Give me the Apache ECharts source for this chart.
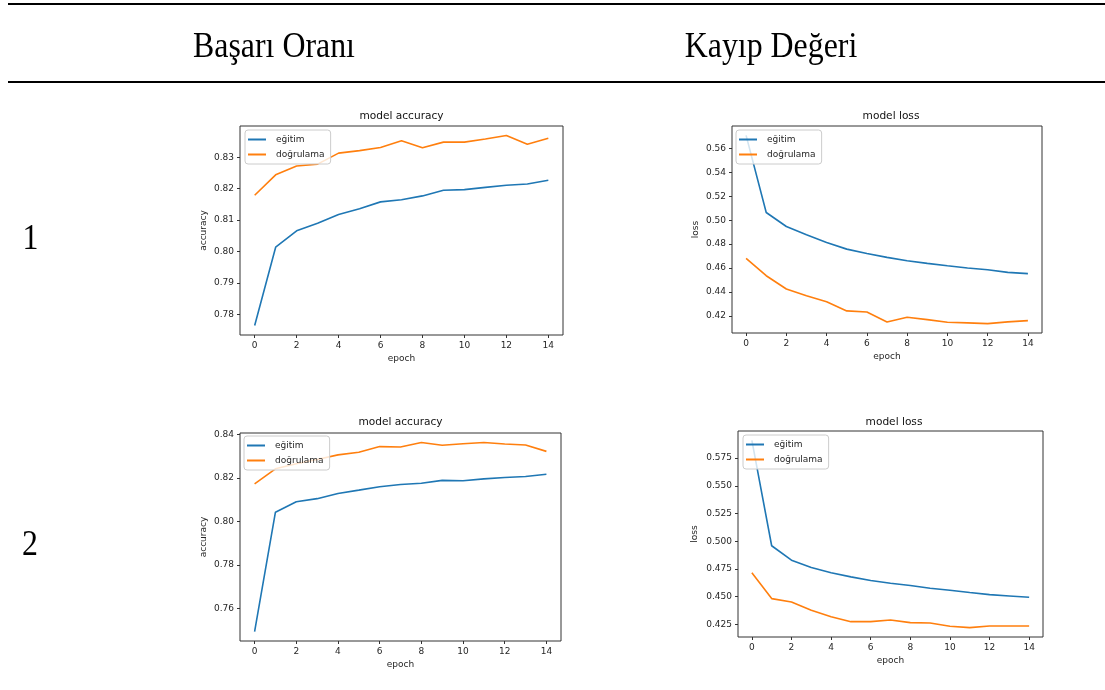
<!DOCTYPE html>
<html>
<head>
<meta charset="utf-8">
<script src="https://cdn.jsdelivr.net/npm/echarts@6/dist/echarts.min.js"></script>
<style>
  html, body { margin: 0; padding: 0; background: #fff; }
  #chart { width: 1105px; height: 690px; }
</style>
</head>
<body>
<div id="chart"></div>
<script>
// Training history, 15 epochs, two runs
const epochs = [0, 1, 2, 3, 4, 5, 6, 7, 8, 9, 10, 11, 12, 13, 14];
const seriesNames = ['eğitim', 'doğrulama'];

// Run 1
const acc1Train = [0.7765, 0.8014, 0.8066, 0.8090, 0.8118, 0.8136, 0.8158, 0.8165, 0.8177, 0.8195, 0.8197, 0.8204, 0.8211, 0.8215, 0.8227];
const acc1Val   = [0.8179, 0.8244, 0.8272, 0.8278, 0.8313, 0.8321, 0.8331, 0.8352, 0.8330, 0.8348, 0.8348, 0.8358, 0.8369, 0.8341, 0.8360];
const loss1Train = [0.5708, 0.5064, 0.4947, 0.4878, 0.4814, 0.4758, 0.4722, 0.4689, 0.4661, 0.4639, 0.4619, 0.4600, 0.4586, 0.4564, 0.4553];
const loss1Val   = [0.4681, 0.4536, 0.4425, 0.4369, 0.4319, 0.4242, 0.4233, 0.4150, 0.4189, 0.4169, 0.4147, 0.4142, 0.4136, 0.4150, 0.4161];

// Run 2
const acc2Train = [0.7495, 0.8043, 0.8091, 0.8105, 0.8129, 0.8144, 0.8160, 0.8170, 0.8176, 0.8189, 0.8187, 0.8196, 0.8202, 0.8207, 0.8217];
const acc2Val   = [0.8173, 0.8242, 0.8265, 0.8285, 0.8306, 0.8318, 0.8344, 0.8342, 0.8363, 0.8350, 0.8357, 0.8363, 0.8356, 0.8351, 0.8322];
const loss2Train = [0.5910, 0.4959, 0.4829, 0.4763, 0.4715, 0.4678, 0.4645, 0.4621, 0.4600, 0.4576, 0.4558, 0.4537, 0.4518, 0.4506, 0.4494];
const loss2Val   = [0.4715, 0.4482, 0.4452, 0.4377, 0.4319, 0.4274, 0.4274, 0.4289, 0.4265, 0.4262, 0.4232, 0.4220, 0.4235, 0.4235, 0.4235];

// Tick labels
const xTicks = [0, 2, 4, 6, 8, 10, 12, 14];
const yTicksAcc1 = [0.78, 0.79, 0.80, 0.81, 0.82, 0.83];
const yTicksLoss1 = [0.42, 0.44, 0.46, 0.48, 0.50, 0.52, 0.54, 0.56];
const yTicksAcc2 = [0.76, 0.78, 0.80, 0.82, 0.84];
const yTicksLoss2 = [0.425, 0.450, 0.475, 0.500, 0.525, 0.550, 0.575];

// Table header and row labels
const columnHeaders = ['Başarı Oranı', 'Kayıp Değeri'];
const rowLabels = ['1', '2'];
const titleAcc = 'model accuracy';
const titleLoss = 'model loss';

const BLUE = '#1f77b4';
const ORANGE = '#ff7f0e';
const INK = '#262626';
const SANS = '"DejaVu Sans", sans-serif';
const SERIF = '"Liberation Serif", "DejaVu Serif", serif';

// Panel layout: plot rectangles, title centers, legend boxes
const panels = [
  { grid: { left: 240, top: 126, width: 323, height: 209 }, title: titleAcc, tx: 401.5, ty: 116.5,
    yName: 'accuracy', yGap: 32, train: acc1Train, val: acc1Val, yTicks: yTicksAcc1, dec: 2, lg: { left: 245, top: 130 } },
  { grid: { left: 732, top: 126, width: 310, height: 207 }, title: titleLoss, tx: 891, ty: 116.5,
    yName: 'loss', yGap: 32, train: loss1Train, val: loss1Val, yTicks: yTicksLoss1, dec: 2, lg: { left: 736, top: 130 } },
  { grid: { left: 240, top: 433, width: 321, height: 208 }, title: titleAcc, tx: 400.5, ty: 422.5,
    yName: 'accuracy', yGap: 32, train: acc2Train, val: acc2Val, yTicks: yTicksAcc2, dec: 2, lg: { left: 244, top: 436 } },
  { grid: { left: 738, top: 431, width: 305, height: 206 }, title: titleLoss, tx: 894, ty: 422,
    yName: 'loss', yGap: 39, train: loss2Train, val: loss2Val, yTicks: yTicksLoss2, dec: 3, lg: { left: 743, top: 435 } }
];

// Autoscaled limits with a 5% margin on each side
function limits(lo, hi) {
  const m = (hi - lo) * 0.05;
  return [lo - m, hi + m];
}

const grids = [], xAxes = [], yAxes = [], series = [], legends = [], graphics = [];

panels.forEach((p, i) => {
  grids.push(Object.assign({ show: true, borderColor: '#333', borderWidth: 1, backgroundColor: '#fff' }, p.grid));

  const xl = limits(epochs[0], epochs[epochs.length - 1]);
  xAxes.push({
    type: 'value', gridIndex: i, min: xl[0], max: xl[1], position: 'bottom',
    name: 'epoch', nameLocation: 'middle', nameGap: 19,
    nameTextStyle: { fontFamily: SANS, fontSize: 9, color: INK },
    axisLine: { show: false, onZero: false },
    axisTick: { show: true, inside: false, length: 3, customValues: xTicks, lineStyle: { color: '#333', width: 1 } },
    axisLabel: { customValues: xTicks, margin: 6, fontFamily: SANS, fontSize: 9, color: INK, formatter: v => String(v) },
    splitLine: { show: false }
  });

  const all = p.train.concat(p.val);
  const yl = limits(Math.min.apply(null, all), Math.max.apply(null, all));
  yAxes.push({
    type: 'value', gridIndex: i, min: yl[0], max: yl[1], position: 'left',
    name: p.yName, nameLocation: 'middle', nameGap: p.yGap, nameRotate: 90,
    nameTextStyle: { fontFamily: SANS, fontSize: 9, color: INK },
    axisLine: { show: false, onZero: false },
    axisTick: { show: true, inside: false, length: 3, customValues: p.yTicks, lineStyle: { color: '#333', width: 1 } },
    axisLabel: { customValues: p.yTicks, margin: 6, fontFamily: SANS, fontSize: 9, color: INK, formatter: v => v.toFixed(p.dec) },
    splitLine: { show: false }
  });

  [p.train, p.val].forEach((arr, k) => {
    series.push({
      name: seriesNames[k], type: 'line', xAxisIndex: i, yAxisIndex: i,
      data: epochs.map((e, j) => [e, arr[j]]),
      symbol: 'none', smooth: false, animation: false,
      lineStyle: { color: k === 0 ? BLUE : ORANGE, width: 1.6 },
      itemStyle: { color: k === 0 ? BLUE : ORANGE },
      z: 2 + k
    });
  });

  legends.push({
    data: seriesNames, orient: 'vertical', left: p.lg.left, top: p.lg.top,
    padding: [5, 6, 5, 3], itemGap: 6, itemWidth: 18, itemHeight: 2, icon: 'rect',
    backgroundColor: 'rgba(255,255,255,0.8)', borderColor: '#cccccc', borderWidth: 1, borderRadius: 3,
    textStyle: { fontFamily: SANS, fontSize: 9, color: INK, padding: [0, 0, 0, 5] },
    selectedMode: false
  });

  graphics.push({
    type: 'text', x: p.tx, y: p.ty, z: 10,
    style: { text: p.title, font: '10.6px ' + SANS, fill: '#111', textAlign: 'center', textVerticalAlign: 'middle' }
  });
});

// Table rules and header/row text
graphics.push(
  { type: 'rect', shape: { x: 8, y: 3, width: 1097, height: 2 }, style: { fill: '#000' } },
  { type: 'rect', shape: { x: 8, y: 81, width: 1097, height: 2 }, style: { fill: '#000' } },
  { type: 'text', x: 274, y: 47.5, scaleX: 0.91,
    style: { text: columnHeaders[0], font: '35px ' + SERIF, fill: '#000', textAlign: 'center', textVerticalAlign: 'middle' } },
  { type: 'text', x: 771, y: 47.5, scaleX: 0.91,
    style: { text: columnHeaders[1], font: '35px ' + SERIF, fill: '#000', textAlign: 'center', textVerticalAlign: 'middle' } },
  { type: 'text', x: 30.5, y: 239.5, scaleX: 0.91,
    style: { text: rowLabels[0], font: '35px ' + SERIF, fill: '#000', textAlign: 'center', textVerticalAlign: 'middle' } },
  { type: 'text', x: 30, y: 545.5, scaleX: 0.91,
    style: { text: rowLabels[1], font: '35px ' + SERIF, fill: '#000', textAlign: 'center', textVerticalAlign: 'middle' } }
);

const chart = echarts.init(document.getElementById('chart'), null, { renderer: 'canvas' });
chart.setOption({
  animation: false,
  backgroundColor: '#fff',
  grid: grids,
  xAxis: xAxes,
  yAxis: yAxes,
  legend: legends,
  series: series,
  graphic: graphics
});
</script>
</body>
</html>
